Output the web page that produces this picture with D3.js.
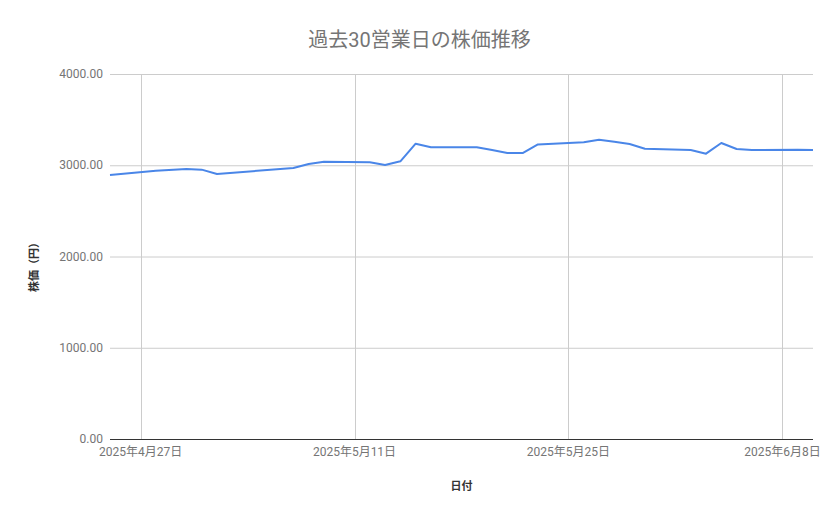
<!DOCTYPE html>
<html>
<head>
<meta charset="utf-8">
<script src="https://cdn.jsdelivr.net/npm/d3@7"></script>
<style>
  body { margin: 0; background: #fff; }
  text { font-family: Roboto, "Noto Sans CJK JP", sans-serif; }
</style>
</head>
<body>
<svg id="chart"></svg>
<script>
// 営業日と終値
var dates = [
  '2025-04-25', '2025-04-28', '2025-04-30', '2025-05-01', '2025-05-02',
  '2025-05-07', '2025-05-08', '2025-05-09', '2025-05-12', '2025-05-13',
  '2025-05-14', '2025-05-15', '2025-05-16', '2025-05-19', '2025-05-20',
  '2025-05-21', '2025-05-22', '2025-05-23', '2025-05-26', '2025-05-27',
  '2025-05-28', '2025-05-29', '2025-05-30', '2025-06-02', '2025-06-03',
  '2025-06-04', '2025-06-05', '2025-06-06', '2025-06-09', '2025-06-10'
];
var prices = [
  2893, 2940, 2959, 2952, 2904,
  2970, 3014, 3039, 3032, 3003,
  3043, 3236, 3197, 3197, 3167,
  3134, 3134, 3228, 3251, 3280,
  3258, 3233, 3181, 3167, 3127,
  3244, 3178, 3167, 3170, 3167
];
var yTicks = [0, 1000, 2000, 3000, 4000];
var xTicks = ['2025-04-27', '2025-05-11', '2025-05-25', '2025-06-08'];

var width = 839, height = 519;
var margin = { top: 74, right: 26, bottom: 80, left: 110 };
var innerW = width - margin.left - margin.right;
var innerH = height - margin.top - margin.bottom;

var parse = d3.timeParse('%Y-%m-%d');
var data = dates.map(function(d, i) {
  return { date: parse(d), price: prices[i] };
});

var svg = d3.select('#chart')
  .attr('width', width)
  .attr('height', height);

var x = d3.scaleTime()
  .domain([parse('2025-04-25'), parse('2025-06-10')])
  .range([0, innerW]);

var y = d3.scaleLinear()
  .domain([0, 4000])
  .range([innerH, 0]);

var g = svg.append('g')
  .attr('transform', 'translate(' + margin.left + ',' + margin.top + ')');

// gridlines
g.selectAll('.hgrid')
  .data(yTicks)
  .enter()
  .append('line')
  .attr('x1', 0)
  .attr('x2', innerW)
  .attr('y1', function(d) { return y(d) + 0.5; })
  .attr('y2', function(d) { return y(d) + 0.5; })
  .attr('stroke', '#cccccc')
  .attr('stroke-width', 1);

g.selectAll('.vgrid')
  .data(xTicks)
  .enter()
  .append('line')
  .attr('x1', function(d) { return Math.round(x(parse(d))) + 0.5; })
  .attr('x2', function(d) { return Math.round(x(parse(d))) + 0.5; })
  .attr('y1', 0)
  .attr('y2', innerH)
  .attr('stroke', '#cccccc')
  .attr('stroke-width', 1);

// y tick labels
g.selectAll('.ylabel')
  .data(yTicks)
  .enter()
  .append('text')
  .attr('x', -7)
  .attr('y', function(d) { return y(d); })
  .attr('dy', '0.35em')
  .attr('text-anchor', 'end')
  .attr('font-size', 12)
  .attr('fill', '#757575')
  .text(function(d) { return d3.format('.2f')(d); });

// x tick labels
var fmt = d3.timeFormat('%Y年%-m月%-d日');
g.selectAll('.xlabel')
  .data(xTicks)
  .enter()
  .append('text')
  .attr('x', function(d) { return x(parse(d)); })
  .attr('y', innerH + 17)
  .attr('text-anchor', 'middle')
  .attr('font-size', 12)
  .attr('fill', '#757575')
  .text(function(d) { return fmt(parse(d)); });

// baseline
g.append('line')
  .attr('x1', 0)
  .attr('x2', innerW)
  .attr('y1', innerH + 0.5)
  .attr('y2', innerH + 0.5)
  .attr('stroke', '#333333')
  .attr('stroke-width', 1);

// price line
var line = d3.line()
  .x(function(d) { return x(d.date); })
  .y(function(d) { return y(d.price); });

g.append('path')
  .datum(data)
  .attr('d', line)
  .attr('fill', 'none')
  .attr('stroke', '#4a86e8')
  .attr('stroke-width', 2)
  .attr('stroke-linejoin', 'round');

// titles
svg.append('text')
  .attr('x', width / 2)
  .attr('y', 47)
  .attr('text-anchor', 'middle')
  .attr('font-size', 20)
  .attr('fill', '#757575')
  .text('過去30営業日の株価推移');

svg.append('text')
  .attr('x', margin.left + innerW / 2)
  .attr('y', 490)
  .attr('text-anchor', 'middle')
  .attr('font-size', 11)
  .attr('font-weight', 'bold')
  .attr('fill', '#333333')
  .text('日付');

svg.append('text')
  .attr('transform', 'translate(38,' + (margin.top + innerH / 2 + 8) + ') rotate(-90)')
  .attr('text-anchor', 'middle')
  .attr('font-size', 11)
  .attr('font-weight', 'bold')
  .attr('fill', '#333333')
  .text('株価（円）');
</script>
</body>
</html>
